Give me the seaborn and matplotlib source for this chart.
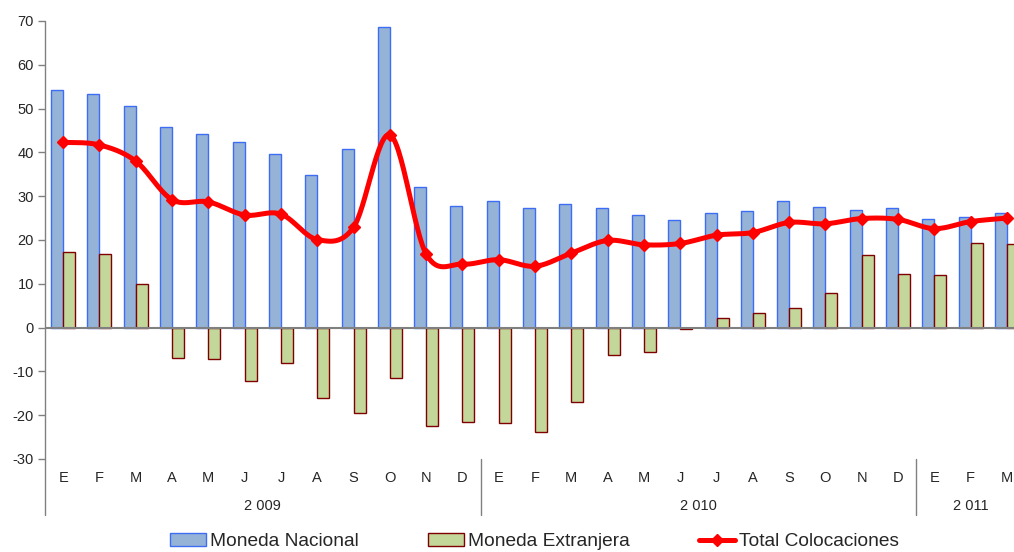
import numpy as np
import pandas as pd
import matplotlib
matplotlib.use('Agg')
import matplotlib.pyplot as plt
import seaborn as sns
from matplotlib.patches import Patch
from matplotlib.lines import Line2D

# datos (lectura aproximada del gráfico)
meses = ['E', 'F', 'M', 'A', 'M', 'J', 'J', 'A', 'S', 'O', 'N', 'D',
         'E', 'F', 'M', 'A', 'M', 'J', 'J', 'A', 'S', 'O', 'N', 'D',
         'E', 'F', 'M']
anios = ['2 009', '2 010', '2 011']
meses_por_anio = [12, 12, 3]

moneda_nacional = [54.2, 53.3, 50.5, 45.8, 44.3, 42.3, 39.6, 34.8, 40.8, 68.7, 32.0, 27.8,
                   28.9, 27.4, 28.2, 27.4, 25.7, 24.6, 26.1, 26.6, 28.9, 27.5, 26.8, 27.4,
                   24.9, 25.2, 26.2]
moneda_extranjera = [17.3, 16.9, 10.0, -6.9, -7.1, -12.2, -8.0, -16.0, -19.5, -11.5, -22.4, -21.6,
                     -21.8, -23.8, -16.9, -6.2, -5.5, -0.4, 2.2, 3.3, 4.5, 7.9, 16.6, 12.3,
                     12.1, 19.3, 19.0]
total_colocaciones = [42.3, 41.7, 38.0, 29.2, 28.7, 25.7, 25.9, 20.1, 22.9, 44.0, 16.8, 14.5,
                      15.5, 14.0, 17.0, 19.9, 18.9, 19.2, 21.1, 21.7, 24.0, 23.7, 24.9, 24.7,
                      22.6, 24.2, 25.0]

n = len(meses)
df = pd.DataFrame({
    'idx': list(range(n)) * 2,
    'valor': moneda_nacional + moneda_extranjera,
    'serie': ['Moneda Nacional'] * n + ['Moneda Extranjera'] * n,
})

sns.set_style('white')
plt.rcParams['font.family'] = ['Liberation Sans', 'DejaVu Sans']
plt.rcParams['axes.unicode_minus'] = False

fig = plt.figure(figsize=(10.14, 5.52), dpi=100)
ax = fig.add_axes([0.0444, 0.1685, 0.9665, 0.7935])

azul, azul_borde = '#95B3D7', '#3D6CF5'
verde, verde_borde = '#C4D79B', '#7F0000'

sns.barplot(data=df, x='idx', y='valor', hue='serie', palette=[azul, verde],
            width=0.66, ax=ax, legend=False, saturation=1, zorder=2)
for cont, ec in zip(ax.containers, [azul_borde, verde_borde]):
    for p in cont:
        p.set_edgecolor(ec)
        p.set_linewidth(1.0)

# línea suavizada (estilo Excel) a partir de los puntos
x = np.arange(n, dtype=float)
y = np.array(total_colocaciones)
xs, ys = [], []
for i in range(n - 1):
    i0, i3 = max(i - 1, 0), min(i + 2, n - 1)
    p0 = np.array([x[i0], y[i0]]); p1 = np.array([x[i], y[i]])
    p2 = np.array([x[i + 1], y[i + 1]]); p3 = np.array([x[i3], y[i3]])
    c1 = p1 + (p2 - p0) / 6
    c2 = p2 - (p3 - p1) / 6
    t = np.linspace(0, 1, 30)[:, None]
    b = (1 - t) ** 3 * p1 + 3 * (1 - t) ** 2 * t * c1 + 3 * (1 - t) * t ** 2 * c2 + t ** 3 * p2
    xs.extend(b[:, 0]); ys.extend(b[:, 1])
ax.plot(xs, ys, color='#FF0000', lw=3.6, zorder=4, solid_capstyle='round')
ax.plot(x, y, ls='none', marker='D', ms=6.5, color='#FF0000', zorder=5)

ax.axhline(0, color='#808080', lw=1.5, zorder=3)
ax.set_ylim(-30, 70)
ax.set_xlim(-0.5, n - 0.5)
ax.set_yticks(range(-30, 71, 10))
ax.tick_params(axis='y', length=5, width=1, color='#808080', pad=3, labelsize=10.5, direction='out', left=True)
ax.set_xticks([])
ax.set_xlabel('')
ax.set_ylabel('')
for s in ['top', 'right', 'bottom', 'left']:
    ax.spines[s].set_visible(False)

# eje izquierdo extendido y separadores de años
trans = ax.get_xaxis_transform()
ax.add_line(Line2D([0, 0], [-0.128, 1], transform=ax.transAxes, color='#808080', lw=1, clip_on=False))
for i, m in enumerate(meses):
    ax.text(i, -0.043, m, transform=trans, ha='center', va='center', fontsize=10.5)
inicio = 0
for a, k in zip(anios, meses_por_anio):
    ax.text(inicio + (k - 1) / 2, -0.107, a, transform=trans, ha='center', va='center', fontsize=10.5)
    inicio += k
    if inicio < n:
        ax.add_line(Line2D([inicio - 0.5] * 2, [0, -0.128], transform=trans, color='#808080', lw=1, clip_on=False))

handles = [Patch(facecolor=azul, edgecolor=azul_borde, label='Moneda Nacional'),
           Patch(facecolor=verde, edgecolor=verde_borde, label='Moneda Extranjera'),
           Line2D([0], [0], color='#FF0000', lw=3.6, marker='D', ms=6.5, label='Total Colocaciones')]
fig.legend(handles=handles, loc='center', bbox_to_anchor=(0.527, 0.019), ncol=3, frameon=False,
           fontsize=13.8, handlelength=1.9, handleheight=0.7, columnspacing=3.6, handletextpad=0.2,
           borderpad=0.1)

fig.savefig('out.png', dpi=100)
